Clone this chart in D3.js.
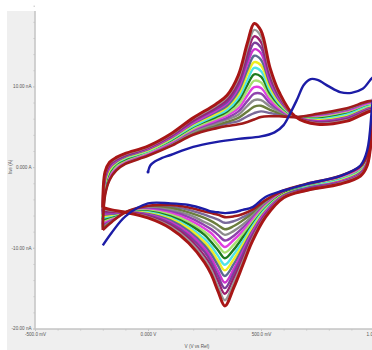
<!DOCTYPE html>
<html>
<head>
<meta charset="utf-8">
<script src="https://cdn.jsdelivr.net/npm/d3@7"></script>
<style>
  body { margin: 0; background: #fff; }
  svg { display: block; }
</style>
</head>
<body>
<svg id="chart" width="372" height="350"></svg>
<script>
// scan potentials (V) shared by all repeated cycles
const forwardPotentials = [-0.2, -0.19, -0.17, -0.14, -0.1, 0, 0.1, 0.2, 0.3, 0.35, 0.4, 0.44, 0.47, 0.5, 0.54, 0.58, 0.65, 0.75, 0.88, 1.0];
const reversePotentials = [1.0, 0.99, 0.97, 0.94, 0.85, 0.7, 0.6, 0.52, 0.46, 0.42, 0.38, 0.34, 0.31, 0.28, 0.25, 0.18, 0.1, 0, -0.1, -0.16, -0.2];

// currents (nA), one row per cycle, smallest to largest
const forwardCurrents = [
  [-7.8, -3.5, -1.6, -0.4, 0.4, 1.4, 2.6, 4.0, 4.8, 5.1, 5.3, 5.6, 5.9, 6.2, 6.3, 6.3, 6.2, 6.6, 7.3, 8.1],
  [-7.6, -3.3, -1.5, -0.3, 0.5, 1.5, 2.7, 4.1, 5.0, 5.4, 5.7, 6.3, 6.7, 6.9, 6.7, 6.5, 6.2, 6.5, 7.2, 8.0],
  [-7.4, -3.1, -1.3, -0.2, 0.6, 1.6, 2.8, 4.3, 5.2, 5.6, 6.1, 6.9, 7.5, 7.6, 7.1, 6.7, 6.2, 6.4, 7.1, 7.9],
  [-7.2, -2.9, -1.2, -0.1, 0.7, 1.6, 2.9, 4.4, 5.4, 5.9, 6.5, 7.6, 8.3, 8.3, 7.5, 6.9, 6.2, 6.3, 7.0, 7.9],
  [-7.1, -2.7, -1.0, 0.0, 0.8, 1.7, 3.0, 4.6, 5.6, 6.1, 6.9, 8.2, 9.1, 9.1, 7.9, 7.1, 6.2, 6.3, 6.9, 7.8],
  [-6.9, -2.5, -0.9, 0.1, 0.8, 1.8, 3.1, 4.7, 5.8, 6.4, 7.3, 8.9, 9.9, 9.8, 8.3, 7.3, 6.2, 6.2, 6.8, 7.7],
  [-6.7, -2.3, -0.7, 0.2, 0.9, 1.9, 3.2, 4.8, 6.0, 6.6, 7.7, 9.5, 10.7, 10.5, 8.7, 7.5, 6.2, 6.1, 6.7, 7.6],
  [-6.5, -2.2, -0.6, 0.4, 1.0, 2.0, 3.3, 5.0, 6.2, 6.9, 8.2, 10.2, 11.5, 11.2, 9.1, 7.7, 6.3, 6.0, 6.6, 7.5],
  [-6.3, -2.0, -0.4, 0.5, 1.1, 2.0, 3.4, 5.1, 6.4, 7.1, 8.6, 10.8, 12.3, 11.9, 9.5, 7.9, 6.3, 5.9, 6.5, 7.5],
  [-6.1, -1.8, -0.3, 0.6, 1.2, 2.1, 3.5, 5.3, 6.6, 7.4, 9.0, 11.5, 13.0, 12.6, 9.9, 8.1, 6.3, 5.8, 6.3, 7.4],
  [-5.9, -1.6, -0.1, 0.7, 1.3, 2.2, 3.6, 5.4, 6.8, 7.6, 9.4, 12.1, 13.8, 13.3, 10.3, 8.3, 6.3, 5.7, 6.2, 7.3],
  [-5.8, -1.4, 0.0, 0.8, 1.4, 2.3, 3.7, 5.5, 7.0, 7.9, 9.8, 12.8, 14.6, 14.1, 10.7, 8.5, 6.3, 5.7, 6.1, 7.2],
  [-5.6, -1.2, 0.2, 0.9, 1.4, 2.4, 3.8, 5.7, 7.2, 8.1, 10.2, 13.4, 15.4, 14.8, 11.1, 8.7, 6.3, 5.6, 6.0, 7.1],
  [-5.4, -1.0, 0.3, 1.0, 1.5, 2.4, 3.9, 5.8, 7.4, 8.4, 10.6, 14.1, 16.2, 15.5, 11.5, 8.9, 6.3, 5.5, 5.9, 7.1],
  [-5.2, -0.8, 0.5, 1.1, 1.6, 2.5, 4.0, 6.0, 7.6, 8.7, 11.0, 14.8, 17.0, 16.2, 11.9, 9.1, 6.3, 5.4, 5.8, 7.0],
  [-5.0, -0.6, 0.6, 1.2, 1.7, 2.6, 4.1, 6.1, 7.8, 8.9, 11.4, 15.4, 17.8, 16.9, 12.3, 9.3, 6.3, 5.3, 5.7, 6.9]
];
const reverseCurrents = [
  [8.1, 5.2, 1.5, 0.1, -1.1, -2.1, -2.9, -4.1, -5.3, -5.8, -6.1, -6.2, -5.9, -5.7, -5.5, -5.0, -4.7, -4.8, -5.6, -6.8, -7.8],
  [8.0, 5.1, 1.4, 0.0, -1.2, -2.2, -3.0, -4.2, -5.6, -6.2, -6.7, -6.9, -6.5, -6.2, -5.9, -5.3, -4.9, -4.9, -5.6, -6.7, -7.6],
  [7.9, 5.0, 1.3, -0.1, -1.2, -2.2, -3.0, -4.4, -5.8, -6.6, -7.3, -7.7, -7.2, -6.7, -6.3, -5.6, -5.1, -5.0, -5.6, -6.6, -7.4],
  [7.9, 5.0, 1.2, -0.1, -1.3, -2.3, -3.1, -4.5, -6.1, -7.1, -7.9, -8.4, -7.8, -7.2, -6.8, -5.9, -5.3, -5.1, -5.6, -6.5, -7.2],
  [7.8, 4.9, 1.2, -0.2, -1.4, -2.3, -3.1, -4.7, -6.4, -7.5, -8.5, -9.1, -8.4, -7.7, -7.2, -6.2, -5.5, -5.2, -5.6, -6.4, -7.1],
  [7.7, 4.8, 1.1, -0.3, -1.4, -2.4, -3.2, -4.8, -6.6, -7.9, -9.0, -9.9, -9.1, -8.2, -7.6, -6.5, -5.7, -5.3, -5.6, -6.3, -6.9],
  [7.6, 4.7, 1.0, -0.4, -1.5, -2.4, -3.3, -4.9, -6.9, -8.3, -9.6, -10.6, -9.7, -8.7, -8.0, -6.8, -5.9, -5.4, -5.6, -6.2, -6.7],
  [7.5, 4.6, 0.9, -0.5, -1.6, -2.5, -3.3, -5.1, -7.2, -8.7, -10.2, -11.3, -10.3, -9.3, -8.4, -7.1, -6.1, -5.5, -5.6, -6.1, -6.5],
  [7.5, 4.6, 0.8, -0.5, -1.6, -2.5, -3.4, -5.2, -7.4, -9.2, -10.8, -12.1, -11.0, -9.8, -8.9, -7.4, -6.3, -5.6, -5.6, -6.0, -6.3],
  [7.4, 4.5, 0.7, -0.6, -1.7, -2.6, -3.4, -5.4, -7.7, -9.6, -11.4, -12.8, -11.6, -10.3, -9.3, -7.6, -6.4, -5.7, -5.6, -5.9, -6.1],
  [7.3, 4.4, 0.6, -0.7, -1.8, -2.6, -3.5, -5.5, -8.0, -10.0, -12.0, -13.5, -12.2, -10.8, -9.7, -7.9, -6.6, -5.8, -5.6, -5.8, -5.9],
  [7.2, 4.3, 0.6, -0.8, -1.8, -2.7, -3.6, -5.6, -8.2, -10.4, -12.6, -14.3, -12.9, -11.3, -10.1, -8.2, -6.8, -5.9, -5.6, -5.7, -5.8],
  [7.1, 4.2, 0.5, -0.9, -1.9, -2.7, -3.6, -5.8, -8.5, -10.8, -13.1, -15.0, -13.5, -11.8, -10.5, -8.5, -7.0, -6.0, -5.6, -5.6, -5.6],
  [7.1, 4.2, 0.4, -0.9, -2.0, -2.8, -3.7, -5.9, -8.8, -11.3, -13.7, -15.7, -14.1, -12.3, -11.0, -8.8, -7.2, -6.1, -5.6, -5.5, -5.4],
  [7.0, 4.1, 0.3, -1.0, -2.0, -2.9, -3.7, -6.1, -9.0, -11.7, -14.3, -16.5, -14.8, -12.8, -11.4, -9.1, -7.4, -6.2, -5.6, -5.4, -5.2],
  [6.9, 4.0, 0.2, -1.1, -2.1, -2.9, -3.8, -6.2, -9.3, -12.1, -14.9, -17.2, -15.4, -13.3, -11.8, -9.4, -7.6, -6.3, -5.6, -5.3, -5.0]
];
const cycleColors = ["#a01a1a", "#7a6a9a", "#6b7d3e", "#8c8c8c", "#8e44ad", "#e040e0", "#a8e070", "#1e7b1e",
  "#4fe3e8", "#eeee22", "#5b6b8f", "#cc33cc", "#7b3f9a", "#9b1f6e", "#999999", "#a81616"];

// first scan, started at 0 V
const blueForwardPotentials = [0, 0.01, 0.03, 0.06, 0.1, 0.2, 0.3, 0.4, 0.5, 0.56, 0.6, 0.63, 0.66, 0.69, 0.72, 0.75, 0.8, 0.85, 0.9, 0.95, 1.0];
const blueForwardCurrents = [-0.6, 0.2, 0.7, 1.1, 1.5, 2.5, 3.1, 3.5, 3.8, 4.3, 5.2, 6.7, 8.4, 10.2, 10.9, 10.8, 10.0, 9.3, 9.2, 9.7, 11.2];
const blueReverseCurrents = [11.2, 7.1, 2.1, 0.2, -1.1, -2.1, -2.9, -3.7, -5.0, -5.3, -5.6, -5.7, -5.6, -5.5, -5.2, -4.7, -4.5, -4.5, -6.1, -8.1, -9.7];

const xMajorTicks = [-0.5, 0, 0.5, 1.0];
const xTickLabels = ["-500.0 mV", "0.000 V", "500.0 mV", "1.000 V"];
const yMajorTicks = [-20, -10, 0, 10];
const yTickLabels = ["-20.00 nA", "-10.00 nA", "0.000 A", "10.00 nA"];

const svg = d3.select("#chart");
const W = 372, H = 350;
const plot = { left: 35, top: 0, right: 372, bottom: 329 };

const x = d3.scaleLinear().domain([-0.5, 1.0]).range([35, 374]);
const y = d3.scaleLinear().domain([-20, 10]).range([328.5, 86.4]);

svg.append("rect").attr("x", 7).attr("y", 11).attr("width", W - 7).attr("height", H - 11).attr("fill", "#efefef");
svg.append("rect").attr("x", plot.left).attr("y", plot.top)
  .attr("width", plot.right - plot.left).attr("height", plot.bottom - plot.top).attr("fill", "#fff");

svg.append("defs").append("clipPath").attr("id", "clip")
  .append("rect").attr("x", plot.left).attr("y", plot.top)
  .attr("width", plot.right - plot.left).attr("height", plot.bottom - plot.top);

// axes
const fontFam = "'Liberation Sans', Arial, sans-serif";
const gy = svg.append("g").attr("transform", `translate(${plot.left},0)`);
gy.call(d3.axisLeft(y).tickValues(d3.range(-20, 20.1, 2)).tickSize(1.5).tickFormat(""));
gy.append("g").call(d3.axisLeft(y).tickValues(yMajorTicks).tickSize(2)
  .tickFormat((d, i) => yTickLabels[i]));
gy.selectAll(".domain").attr("d", `M0,11V${plot.bottom}`);
gy.selectAll("path,line").attr("stroke", "#c4c4c4");
gy.selectAll("text").attr("font-size", 4.6).attr("font-family", fontFam).attr("fill", "#555").attr("x", -3.5);

const gx = svg.append("g").attr("transform", `translate(0,${plot.bottom})`);
gx.call(d3.axisBottom(x).tickValues(d3.range(-0.5, 1.01, 0.1)).tickSize(1.5).tickFormat(""));
gx.append("g").call(d3.axisBottom(x).tickValues(xMajorTicks).tickSize(2)
  .tickFormat((d, i) => xTickLabels[i]));
gx.selectAll(".domain").attr("d", `M${plot.left},0H${plot.right}`);
gx.selectAll("path,line").attr("stroke", "#c4c4c4");
gx.selectAll("text").attr("font-size", 4.6).attr("font-family", fontFam).attr("fill", "#555").attr("y", 4);

svg.append("text").attr("x", 197).attr("y", 348).attr("text-anchor", "middle")
  .attr("font-size", 4.6).attr("font-family", fontFam).attr("fill", "#555").text("V (V vs Ref)");
svg.append("text").attr("transform", "translate(12,167) rotate(-90)").attr("text-anchor", "middle")
  .attr("font-size", 4.6).attr("font-family", fontFam).attr("fill", "#555").text("Iwe (A)");

// curves
const line = d3.line().x(d => x(d[0])).y(d => y(d[1])).curve(d3.curveCatmullRom.alpha(0.5));
const layer = svg.append("g").attr("clip-path", "url(#clip)");

const cycles = forwardCurrents.map((fc, k) => {
  const pts = forwardPotentials.map((v, i) => [v, fc[i]]);
  reversePotentials.slice(1).forEach((v, i) => pts.push([v, reverseCurrents[k][i + 1]]));
  return { k, pts, color: cycleColors[k] };
});

const last = cycles.length - 1;
const drawOrder = cycles.filter(c => c.k !== 0 && c.k !== last).concat([cycles[0], cycles[last]]);
layer.selectAll("path.cycle").data(drawOrder).join("path")
  .attr("class", "cycle")
  .attr("d", d => line(d.pts))
  .attr("fill", "none")
  .attr("stroke", d => d.color)
  .attr("stroke-width", d => (d.k === last ? 3.0 : d.k === 0 ? 2.6 : 2.4))
  .attr("stroke-linejoin", "round");

const bluePts = blueForwardPotentials.map((v, i) => [v, blueForwardCurrents[i]]);
reversePotentials.slice(1).forEach((v, i) => bluePts.push([v, blueReverseCurrents[i + 1]]));
layer.append("path").attr("d", line(bluePts)).attr("fill", "none")
  .attr("stroke", "#1c1ca6").attr("stroke-width", 2.4).attr("stroke-linejoin", "round");
layer.append("circle").attr("cx", x(bluePts[0][0])).attr("cy", y(bluePts[0][1])).attr("r", 1.5).attr("fill", "#1c1ca6");
</script>
</body>
</html>
